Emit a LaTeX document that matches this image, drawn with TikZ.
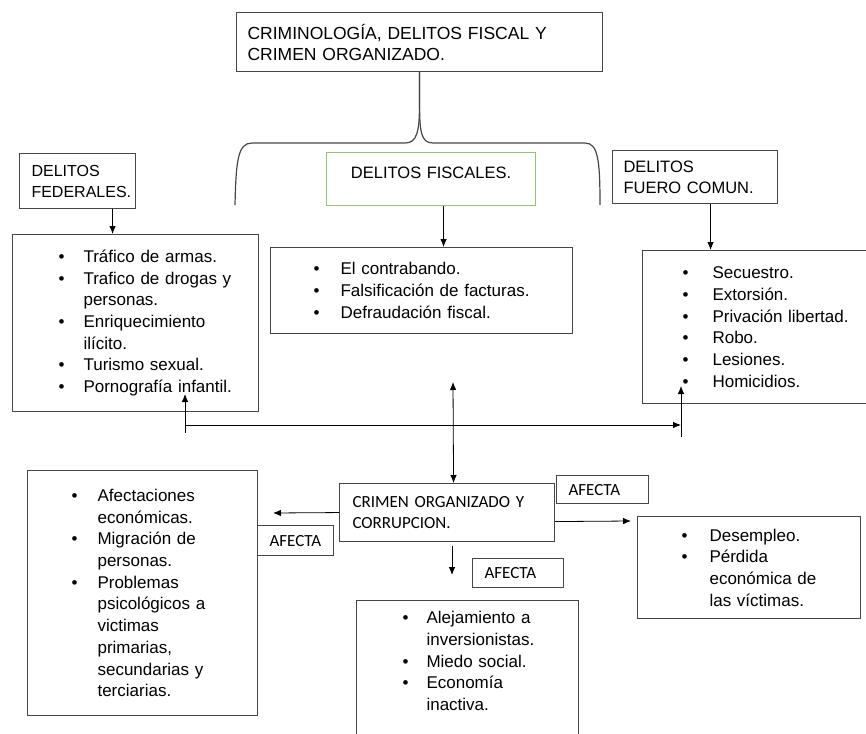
\documentclass[tikz,border=0pt]{standalone}
\usepackage{fontspec}
\setmainfont{Liberation Sans}
\newfontfamily\calfont{Carlito}
\usetikzlibrary{arrows.meta, positioning}
\definecolor{boxgray}{RGB}{70,70,70}
\definecolor{fiscgreen}{RGB}{150,195,110}
\newlength\bulind
\newlength\bulgap
\newcommand\bset[2]{\setlength\bulind{#1}\setlength\bulgap{#2}}
\newcommand\itm[1]{\hspace*{\bulind}\makebox[\bulgap][l]{\textbullet}#1}
\newcommand\cnt[1]{\hspace*{\bulind}\hspace*{\bulgap}#1}
\tikzstyle{heading} = [rectangle, draw=boxgray, line width=1.1pt, align=left, inner xsep=11pt, inner ysep=0pt, anchor=north west, font=\fontsize{16.5}{21}\selectfont]
\tikzstyle{listbox} = [rectangle, draw=boxgray, line width=1.1pt, align=left, inner sep=0pt, anchor=north west, font=\fontsize{17}{21.7}\selectfont]
\tikzstyle{tag} = [rectangle, draw=boxgray, line width=1.1pt, align=left, inner xsep=12pt, inner ysep=0pt, anchor=north west, font=\calfont\fontsize{17}{21}\selectfont]
\tikzstyle{connector} = [draw, line width=0.8pt, ->]
\tikzset{
  >={Latex[length=8pt,width=6.5pt]},
  brace/.style={
    draw=boxgray,
    line width=1.2pt}
}

\begin{document}
\begin{tikzpicture}[x=1pt, y=-1pt]
      \useasboundingbox (0,0) rectangle (866,733);
      % Define nodes at pixel coordinates
      \node (title) [heading, text width=344pt, minimum height=59pt, font=\fontsize{17.5}{21}\selectfont] at (236,12) {CRIMINOLOGÍA, DELITOS FISCAL Y\\CRIMEN ORGANIZADO.};
      \node (fed) [heading, inner xsep=12pt, text width=92pt, minimum height=55pt, font=\fontsize{16}{21}\selectfont] at (19,153) {DELITOS\\FEDERALES.};
      \node (fis) [heading, draw=fiscgreen, align=center, inner xsep=0pt, text width=209pt, minimum height=53pt, text depth=13.5pt] at (326,152) {DELITOS FISCALES.};
      \node (fue) [heading, text width=143pt, minimum height=53pt] at (612,150) {DELITOS\\FUERO COMUN.};
      \node (fedlist) [listbox, text width=246pt, minimum height=177pt] at (12,234) {\bset{46pt}{25pt}\itm{Tráfico de armas.}\\\itm{Trafico de drogas y}\\\cnt{personas.}\\\itm{Enriquecimiento}\\\cnt{ilícito.}\\\itm{Turismo sexual.}\\\itm{Pornografía infantil.}};
      \node (fislist) [listbox, text width=302pt, minimum height=86pt] at (270,247) {\bset{43pt}{27pt}\itm{El contrabando.}\\\itm{Falsificación de facturas.}\\\itm{Defraudación fiscal.}};
      \node (fuelist) [listbox, text width=226pt, minimum height=153pt] at (642,250) {\bset{40pt}{30pt}\itm{Secuestro.}\\\itm{Extorsión.}\\\itm{Privación libertad.}\\\itm{Robo.}\\\itm{Lesiones.}\\\itm{Homicidios.}};
      \node (crimen) [tag, inner xsep=13pt, text width=189pt, minimum height=58pt] at (339,483) {CRIMEN ORGANIZADO Y\\CORRUPCION.};
      \node (effects) [listbox, text width=230pt, minimum height=245pt] at (27,470) {\bset{44pt}{26pt}\itm{Afectaciones}\\\cnt{económicas.}\\\itm{Migración de}\\\cnt{personas.}\\\itm{Problemas}\\\cnt{psicológicos a}\\\cnt{victimas}\\\cnt{primarias,}\\\cnt{secundarias y}\\\cnt{terciarias.}};
      \node (invest) [listbox, text width=222pt, inner ysep=11pt, text depth=140pt] at (356,600) {\bset{46pt}{24pt}\itm{Alejamiento a}\\\cnt{inversionistas.}\\\itm{Miedo social.}\\\itm{Economía}\\\cnt{inactiva.}};
      \node (losses) [listbox, text width=223pt, minimum height=102pt] at (637,516) {\bset{44pt}{28pt}\itm{Desempleo.}\\\itm{Pérdida}\\\cnt{económica de}\\\cnt{las víctimas.}};
      \node (tagL) [tag, text width=52pt, minimum height=30pt] at (257,525) {AFECTA};
      \node (tagR) [tag, text width=68pt, minimum height=28pt] at (556,475) {AFECTA};
      \node (tagD) [tag, text width=67pt, minimum height=29pt] at (472,558) {AFECTA};

      % Free ends of the connectors
      \coordinate (crossL) at (185,425);
      \coordinate (crossR) at (681,425);
      \coordinate (stubL) at (185,433);
      \coordinate (stubR) at (681,437);
      \coordinate (tipL) at (185,394);
      \coordinate (tipR) at (681,386);
      \coordinate (tipM) at (453,382);
      \coordinate (leftTip) at (273,513);
      \coordinate (rightTip) at (631,521);
      \coordinate (downTop) at (452,546);
      \coordinate (downTip) at (452,575);

      % Draw brace
      \draw [brace] (title.south) -- ++(0,30) .. controls +(0,30) and +(12,0) .. (405,143) -- (252,143) .. controls (238,143) and (236,160) .. (235,205);
      \draw [brace] (title.south) -- ++(0,30) .. controls +(0,30) and +(-12,0) .. (433,143) -- (585,143) .. controls (598,143) and (600,160) .. (600,205);

      % Draw connectors
      \draw [connector] ([xshift=35pt]fed.south) -- ([xshift=35pt]fed.south |- fedlist.north);
      \draw [connector] ([xshift=12.5pt]fis.south) -- ([xshift=12.5pt]fis.south |- fislist.north);
      \draw [connector] ([xshift=15.5pt]fue.south) -- ([xshift=15.5pt]fue.south |- fuelist.north);
      \draw [connector] (crossL) -- (crossR);
      \draw [connector] (stubL) -- (tipL);
      \draw [connector] (stubR) -- (tipR);
      \draw [connector, <->] (tipM) -- ([xshift=6.5pt]crimen.north);
      \draw [connector] (crimen.west) -- (leftTip);
      \draw [connector] ([yshift=-9pt]crimen.east) -- (rightTip);
      \draw [connector] (downTop) -- (downTip);
    \end{tikzpicture}
\end{document}
